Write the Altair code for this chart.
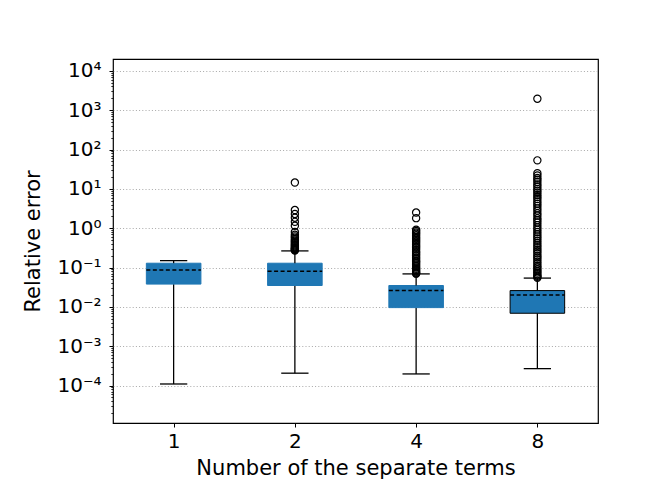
import json
import altair as alt
import pandas as pd

# ---------------- data ----------------
categories = ["1", "2", "4", "8"]
whisker_low = [1.1e-4, 2.07e-4, 1.98e-4, 2.7e-4]
box_q1 = [0.038, 0.035, 0.0096, 0.0069]
center_line = [0.087, 0.081, 0.026, 0.020]
box_q3 = [0.129, 0.129, 0.035, 0.026]
whisker_high = [0.150, 0.265, 0.069, 0.054]

outliers_1 = []
outliers_2 = [14.5, 2.9, 2.3, 1.85, 1.45, 1.15, 0.8, 0.68, 0.62, 0.57, 0.52,
              0.48, 0.45, 0.42, 0.39, 0.37, 0.35, 0.33, 0.31, 0.30, 0.29,
              0.28, 0.27]
outliers_4 = [2.5, 1.8, 0.92, 0.85, 0.78, 0.72, 0.66, 0.60, 0.55, 0.50, 0.46,
              0.42, 0.38, 0.35, 0.32, 0.29, 0.26, 0.24, 0.22, 0.20, 0.18,
              0.165, 0.15, 0.14, 0.13, 0.12, 0.11, 0.10, 0.093, 0.087,
              0.081, 0.076, 0.072, 0.070]
outliers_8 = [1950, 53, 25, 22, 19, 17, 15, 13, 11.5, 10, 9, 8, 7, 6.2, 5.5,
              4.8, 4.2, 3.7, 3.2, 2.8, 2.4, 2.1, 1.8, 1.6, 1.4, 1.2, 1.05,
              0.92, 0.8, 0.7, 0.62, 0.55, 0.48, 0.42, 0.37, 0.33, 0.29, 0.26,
              0.23, 0.20, 0.18, 0.16, 0.14, 0.125, 0.11, 0.10, 0.09, 0.082,
              0.075, 0.068, 0.062, 0.058, 0.055]

y_tick_values = [1e-4, 1e-3, 1e-2, 1e-1, 1, 10, 100, 1000, 10000]
y_tick_labels = ["10⁻⁴", "10⁻³", "10⁻²", "10⁻¹", "10⁰", "10¹", "10²", "10³", "10⁴"]
y_minor_values = [m * 10.0 ** k for k in range(-5, 5) for m in range(2, 10)
                  if 10 ** -4.95 <= m * 10.0 ** k <= 10 ** 4.3]

x_title = "Number of the separate terms"
y_title = "Relative error"

# ---------------- tables ----------------
boxes = pd.DataFrame({
    "idx": list(range(len(categories))),
    "cat": categories,
    "low": whisker_low,
    "q1": box_q1,
    "mid": center_line,
    "q3": box_q3,
    "high": whisker_high,
})
out_rows = []
for i, lst in enumerate([outliers_1, outliers_2, outliers_4, outliers_8]):
    for v in lst:
        out_rows.append({"idx": i, "cat": categories[i], "value": v})
outs = pd.DataFrame(out_rows)

FONT = "DejaVu Sans"
BLUE = "#1f77b4"

xscale = alt.Scale(domain=[-0.5, len(categories) - 0.5], nice=False, zero=False)
yscale = alt.Scale(type="log", domain=[10 ** -4.95, 10 ** 4.3], nice=False)

x_label_expr = json.dumps(categories) + "[datum.value]"
y_label_expr = json.dumps(y_tick_labels, ensure_ascii=False) + "[round(log(datum.value)/LN10)+4]"

base = alt.Chart(boxes).transform_calculate(
    xl="datum.idx - 0.225", xr="datum.idx + 0.225",
    cl="datum.idx - 0.1125", cr="datum.idx + 0.1125",
)

x_main = alt.X("idx:Q", scale=xscale, title=x_title,
               axis=alt.Axis(values=list(range(len(categories))), labelExpr=x_label_expr,
                             grid=False, tickSize=4, tickColor="black", labelFontSize=20,
                             labelColor="black", titleFontSize=21, titleColor="black",
                             titleFontWeight="normal", labelPadding=4, titlePadding=6,
                             domain=False))

# whiskers (lower) with minor-tick axis
whisk_low = base.mark_rule(color="black", strokeWidth=1.3).encode(
    x=x_main,
    y=alt.Y("low:Q", scale=yscale, title=None,
            axis=alt.Axis(values=y_minor_values, labels=False, grid=False, tickSize=2.2,
                          tickColor="black", tickWidth=0.8, domain=False, orient="left")),
    y2="q1:Q",
)
whisk_high = base.mark_rule(color="black", strokeWidth=1.3).encode(
    x=alt.X("idx:Q", scale=xscale), y=alt.Y("q3:Q", scale=yscale, axis=None), y2="high:Q")

cap_low = base.mark_rule(color="black", strokeWidth=1.3).encode(
    x=alt.X("cl:Q", scale=xscale), x2="cr:Q", y=alt.Y("low:Q", scale=yscale, axis=None))
cap_high = base.mark_rule(color="black", strokeWidth=1.3).encode(
    x=alt.X("cl:Q", scale=xscale), x2="cr:Q", y=alt.Y("high:Q", scale=yscale, axis=None))

box = base.mark_rect(fill=BLUE, strokeWidth=1).encode(
    x=alt.X("xl:Q", scale=xscale), x2="xr:Q",
    y=alt.Y("q1:Q", scale=yscale, title=y_title,
            axis=alt.Axis(values=y_tick_values, labelExpr=y_label_expr, grid=True,
                          gridDash=[1, 2.2], gridColor="#a8a8a8", gridWidth=1,
                          tickSize=4, tickColor="black", labelFontSize=20,
                          labelColor="black", titleFontSize=21, titleColor="black",
                          titleFontWeight="normal", labelPadding=8, titlePadding=13,
                          domain=False, orient="left")),
    y2="q3:Q",
    stroke=alt.condition(alt.datum.cat == "8", alt.value("black"), alt.value(BLUE)),
)

mid = base.mark_rule(color="black", strokeWidth=1.5, strokeDash=[4, 2.5]).encode(
    x=alt.X("xl:Q", scale=xscale), x2="xr:Q", y=alt.Y("mid:Q", scale=yscale, axis=None))

points = alt.Chart(outs).mark_point(shape="circle", filled=False, color="black",
                                     size=52, strokeWidth=1.2, opacity=1).encode(
    x=alt.X("idx:Q", scale=xscale), y=alt.Y("value:Q", scale=yscale, axis=None))

chart = alt.layer(whisk_low, box, whisk_high, cap_low, cap_high, mid, points).resolve_scale(
    y="shared", x="shared"
).resolve_axis(y="independent").properties(
    width=485, height=364,
    autosize=alt.AutoSizeParams(type="none"),
    padding={"left": 105, "top": 51, "right": 58, "bottom": 67},
).configure(font=FONT).configure_view(stroke="black", strokeWidth=1.2)

chart.save("out.html", embed_options={"renderer": "svg", "actions": False})
